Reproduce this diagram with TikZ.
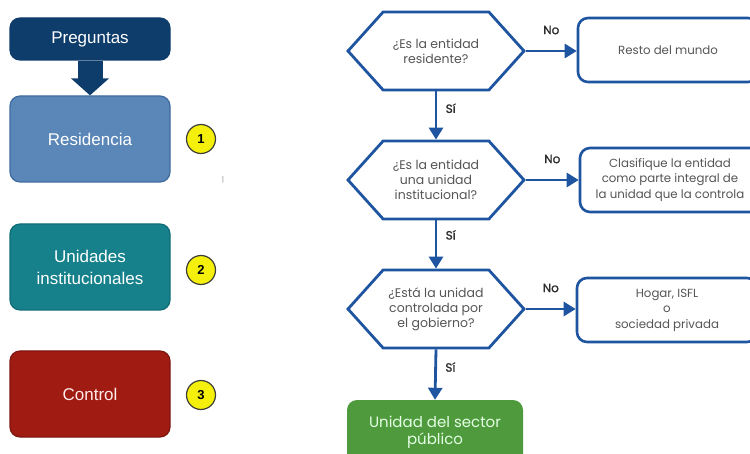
\documentclass[tikz,border=0pt]{standalone}
\usepackage{fontspec}
\setmainfont{Liberation Sans}
\newfontfamily\flowfont{Poppins}
\newfontfamily\labfont{Poppins}[FakeBold=1.3]
\usepackage{tikz}
\usetikzlibrary{shapes.symbols,arrows.meta}
\definecolor{navy}{HTML}{0F3D6B}
\definecolor{resblue}{HTML}{5A86B8}
\definecolor{resedge}{HTML}{3F6C9E}
\definecolor{teal}{HTML}{16808B}
\definecolor{tealedge}{HTML}{106C76}
\definecolor{ctrlred}{HTML}{A01B12}
\definecolor{ctrledge}{HTML}{7E1610}
\definecolor{numyellow}{HTML}{F4F00C}
\definecolor{numedge}{HTML}{3E3E36}
\definecolor{flowblue}{HTML}{1F55A0}
\definecolor{hextext}{HTML}{555555}
\definecolor{labgray}{HTML}{2E2E2E}
\definecolor{pubgreen}{HTML}{4E9A3C}

\begin{document}
\begin{tikzpicture}[x=1pt, y=-1pt,
  qbox/.style={draw, line width=1.2pt, rounded corners=10pt, minimum width=160pt, minimum height=86pt, align=center, font=\fontsize{17}{22}\selectfont},
  num/.style={circle, draw=numedge, line width=1.2pt, fill=numyellow, minimum size=29pt, inner sep=0pt, font=\bfseries\fontsize{13}{14}\selectfont},
  hexa/.style={signal, signal to=west and east, signal pointer angle=96, draw=flowblue, line width=2.8pt, minimum width=176pt, minimum height=78pt, inner sep=0pt, align=center, text=hextext, font=\flowfont\fontsize{12.5}{15}\selectfont},
  rbox/.style={draw=flowblue, fill=white, line width=2.6pt, rounded corners=10pt, minimum width=180pt, minimum height=64pt, align=center, text=hextext, font=\flowfont\fontsize{11.8}{15.5}\selectfont},
  flow/.style={color=flowblue, line width=2.8pt, -{Triangle[length=12pt,width=14pt]}},
  lab/.style={text=labgray, font=\labfont\fontsize{12}{13}\selectfont}
  ]
  \clip (0,0) rectangle (750,454);
  \node[qbox, fill=navy, draw=navy, minimum height=42pt, text=white] (preg) at (90,39) {Preguntas};
  \node[qbox, fill=resblue, draw=resedge, text=white] (res) at (90,139) {Residencia};
  \node[qbox, fill=teal, draw=tealedge, text=white] (unid) at (90,267) {Unidades\\institucionales};
  \node[qbox, fill=ctrlred, draw=ctrledge, text=white!92!red] (ctrl) at (90,394) {Control};
  \node[num] (n1) at (201,139) {1};
  \node[num] (n2) at (201,270) {2};
  \node[num] (n3) at (201,395) {3};
  \node[text=gray, font=\fontsize{7}{7}\selectfont] (mark) at (223,180) {|};
  \draw[navy, line width=25pt, -{Triangle[length=17pt,width=37pt]}] (preg) -- (res);

  \node[hexa] (h1) at (436,51) {¿Es la entidad\\residente?};
  \node[hexa] (h2) at (436,180) {¿Es la entidad\\una unidad\\institucional?};
  \node[hexa] (h3) at (436,309) {¿Está la unidad\\controlada por\\el gobierno?};
  \node[rbox] (r1) at (668,50) {Resto del mundo};
  \node[rbox] (r2) at (670,180) {Clasifique la entidad\\como parte integral de\\la unidad que la controla};
  \node[rbox] (r3) at (667,310) {Hogar, ISFL\\o\\sociedad privada};
  \node[fill=pubgreen, rounded corners=10pt, minimum width=176pt, minimum height=64pt, align=center, text=white!90!green, font=\flowfont\fontsize{15}{17}\selectfont] (pub) at (435,432) {Unidad del sector\\público};
  \path[flow]
  (h1.east) edge node [lab, above=12pt] {No} (h1.east -| r1.west)
  (h1.south) edge node [lab, right=5pt, pos=0.35] {Sí} (h2.north)
  (h2.east) edge node [lab, above=12pt] {No} (h2.east -| r2.west)
  (h2.south) edge node [lab, right=5pt, pos=0.3] {Sí} (h3.north)
  (h3.east) edge node [lab, above=12pt] {No} (h3.east -| r3.west)
  (h3.south) edge node [lab, right=5pt, pos=0.35] {Sí} (pub.north)
  ;
\end{tikzpicture}
\end{document}
